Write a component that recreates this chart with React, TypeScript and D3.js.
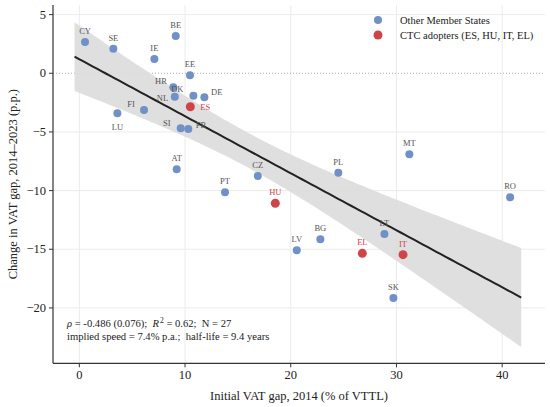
import React from "react";
import * as d3 from "d3";

const countries = ["CY","SE","IE","BE","EE","HR","NL","DK","DE","ES","FI","LU","SI","FR","AT","CZ","PT","HU","PL","MT","RO","LT","BG","LV","EL","IT","SK"];
const initialGap = [0.54,3.22,7.10,9.12,10.47,8.89,9.03,10.79,11.83,10.50,6.12,3.60,9.59,10.31,9.21,16.88,13.78,18.54,24.5,31.22,40.75,28.86,22.80,20.57,26.77,30.62,29.71];
const changeGap = [2.67,2.10,1.22,3.18,-0.17,-1.19,-1.99,-1.91,-2.05,-2.85,-3.13,-3.41,-4.69,-4.75,-8.18,-8.76,-10.15,-11.08,-8.47,-6.9,-10.57,-13.70,-14.15,-15.09,-15.35,-15.46,-19.16];
const ctcAdopters = ["ES","HU","IT","EL"];
const xTicks = [0,10,20,30,40];
const yTicks = [5,0,-5,-10,-15,-20];
const INTERCEPT = 1.20;
const SLOPE = -0.486;
const CI_BASE = 2.2;
const CI_CURV = 0.0235;
const CI_CENTER = 16;
const FIT_RANGE = [-0.45, 41.8];
const legendLabels = ["Other Member States", "CTC adopters (ES, HU, IT, EL)"];

// label placement (layout)
const labelOffsets: Record<string, [number, number]> = {
  HR: [-12.3, -6.7], DK: [-16, -7], NL: [-12.3, 1.7], DE: [12.3, -5.7],
  ES: [15, 0], FI: [-13, -5.7], LU: [0, 13.3], SI: [-14, -5], FR: [12.7, -4],
};

const BLUE = "#7090c6";
const RED = "#cf4449";
const FONT = "'Liberation Serif', 'Times New Roman', serif";

export default function App() {
  const W = 550, H = 407;
  const L = 53, R = 545, T = 5, B = 363.3;
  const x = d3.scaleLinear().domain([-2.49, 44.05]).range([L, R]);
  const y = d3.scaleLinear().domain([-24.72, 5.82]).range([B, T]);

  const xs = d3.range(0, 101).map(i => FIT_RANGE[0] + (FIT_RANGE[1] - FIT_RANGE[0]) * i / 100);
  const fit = (v: number) => INTERCEPT + SLOPE * v;
  const hw = (v: number) => Math.sqrt(CI_BASE + CI_CURV * (v - CI_CENTER) ** 2);
  const area = d3.area<number>().x(v => x(v)).y0(v => y(fit(v) - hw(v))).y1(v => y(fit(v) + hw(v)));
  const line = d3.line<number>().x(v => x(v)).y(v => y(fit(v)));

  const pts = countries.map((c, i) => ({ c, x: initialGap[i], y: changeGap[i], ctc: ctcAdopters.includes(c) }));
  const fmt = (t: number) => (t < 0 ? "\u2212" + Math.abs(t) : String(t));

  return (
    <svg width={W} height={H} style={{ display: "block", position: "absolute", left: 0, top: 0 }} fontFamily={FONT}>
      <rect width={W} height={H} fill="#fff" />
      {/* grid */}
      {xTicks.map(t => (
        <line key={"gx" + t} x1={x(t)} x2={x(t)} y1={T} y2={B} stroke="#ebebeb" strokeWidth={1} />
      ))}
      {yTicks.filter(t => t !== 0).map(t => (
        <line key={"gy" + t} x1={L} x2={R} y1={y(t)} y2={y(t)} stroke="#ebebeb" strokeWidth={1} />
      ))}
      <line x1={L} x2={R} y1={y(0)} y2={y(0)} stroke="#999" strokeWidth={0.8} strokeDasharray="1,2" />
      {/* CI band and fit */}
      <path d={area(xs) || ""} fill="#dcdcdc" fillOpacity={0.9} />
      <path d={line(xs) || ""} fill="none" stroke="#222" strokeWidth={2} />
      {/* points */}
      {pts.map(p => (
        <circle key={p.c} cx={x(p.x)} cy={y(p.y)} r={p.ctc ? 4.5 : 4} fill={p.ctc ? RED : BLUE} />
      ))}
      {pts.map(p => {
        const off = labelOffsets[p.c] || [0, -11];
        return (
          <text key={"l" + p.c} x={x(p.x) + off[0]} y={y(p.y) + off[1]} textAnchor="middle" dominantBaseline="central"
            fontSize={8.5} fill={p.ctc ? RED : "#555"}>{p.c}</text>
        );
      })}
      {/* axes */}
      <line x1={L} x2={L} y1={T} y2={B} stroke="#333" strokeWidth={1.2} />
      <line x1={L} x2={R} y1={B} y2={B} stroke="#333" strokeWidth={1.2} />
      {xTicks.map(t => (
        <g key={"xt" + t}>
          <line x1={x(t)} x2={x(t)} y1={B} y2={B + 4} stroke="#333" strokeWidth={1} />
          <text x={x(t)} y={B + 16} textAnchor="middle" fontSize={12.5} fill="#222">{fmt(t)}</text>
        </g>
      ))}
      {yTicks.map(t => (
        <g key={"yt" + t}>
          <line x1={L - 4} x2={L} y1={y(t)} y2={y(t)} stroke="#333" strokeWidth={1} />
          <text x={L - 7} y={y(t)} textAnchor="end" dominantBaseline="central" fontSize={12.5} fill="#222">{fmt(t)}</text>
        </g>
      ))}
      <text x={(L + R) / 2} y={400} textAnchor="middle" fontSize={12.5} fill="#222">Initial VAT gap, 2014 (% of VTTL)</text>
      <text transform={`translate(13,${(T + B) / 2}) rotate(-90)`} textAnchor="middle" dominantBaseline="central" fontSize={12.5} fill="#222">
        Change in VAT gap, 2014–2023 (p.p.)
      </text>
      {/* annotation */}
      <text x={67} y={327} fontSize={10.6} fill="#222" style={{ whiteSpace: "pre" }}>
        <tspan fontStyle="italic">{"ρ"}</tspan>
        <tspan>{" = -0.486 (0.076);  "}</tspan>
        <tspan fontStyle="italic">{"R"}</tspan>
        <tspan dx={1} dy={-4.5} fontSize={7.5}>{"2"}</tspan>
        <tspan dy={4.5}>{" = 0.62;  N = 27"}</tspan>
      </text>
      <text x={67} y={340} fontSize={10.6} fill="#222" style={{ whiteSpace: "pre" }}>{"implied speed = 7.4% p.a.;  half-life = 9.4 years"}</text>
      {/* legend */}
      <circle cx={378} cy={20} r={4} fill={BLUE} />
      <circle cx={378} cy={35} r={4.5} fill={RED} />
      <text x={400} y={20} dominantBaseline="central" fontSize={10.5} fill="#222">{legendLabels[0]}</text>
      <text x={400} y={35} dominantBaseline="central" fontSize={10.5} fill="#222">{legendLabels[1]}</text>
    </svg>
  );
}
